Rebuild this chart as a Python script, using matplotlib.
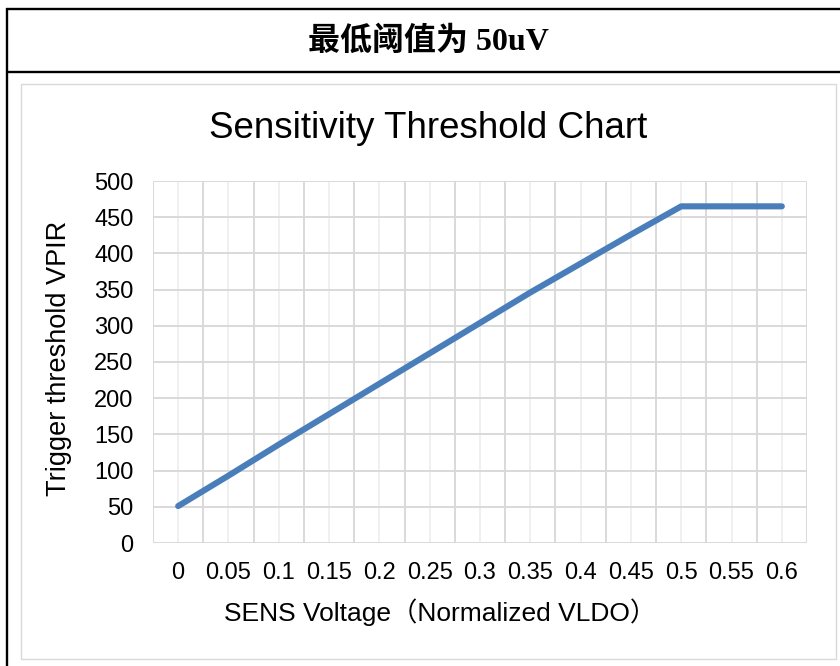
import matplotlib
matplotlib.use('Agg')
import matplotlib.pyplot as plt
from matplotlib.lines import Line2D
from matplotlib.patches import Rectangle
import numpy as np

# data
categories = ['0', '0.05', '0.1', '0.15', '0.2', '0.25', '0.3',
              '0.35', '0.4', '0.45', '0.5', '0.55', '0.6']
threshold = [51, 93, 136, 178, 220, 262, 304, 346, 386, 426, 465, 465, 465]
yticks = [0, 50, 100, 150, 200, 250, 300, 350, 400, 450, 500]

header = '最低阈值为 50uV'
title = 'Sensitivity Threshold Chart'
xlabel = 'SENS Voltage（Normalized VLDO）'
ylabel = 'Trigger threshold VPIR'

W, H = 840, 666
fig = plt.figure(figsize=(W / 100, H / 100), dpi=100)
fig.patch.set_facecolor('white')

def fx(px):
  return px / W

def fy(py):
  return 1 - py / H

# table frame around the chart (black) and inner chart border (gray)
black = dict(color='black', lw=1.7, transform=fig.transFigure,
             solid_capstyle='butt')
fig.add_artist(Line2D([fx(6), 1], [fy(8.5), fy(8.5)], **black))
fig.add_artist(Line2D([fx(6), 1], [fy(72), fy(72)], **black))
fig.add_artist(Line2D([fx(7), fx(7)], [fy(7.5), 0], **black))
fig.add_artist(Rectangle((fx(21), fy(659)), fx(836) - fx(21), fy(84) - fy(659),
                         transform=fig.transFigure, fill=False,
                         edgecolor='#d9d9d9', lw=1.0))

fig.text(fx(428), fy(41), header, ha='center', va='center', fontsize=23,
         fontweight='bold', family=['Liberation Serif', 'Noto Sans CJK SC'])

ax = fig.add_axes([fx(153), fy(543), fx(807) - fx(153), fy(181) - fy(543)])
x = np.arange(len(categories))

# gridlines: darker at category boundaries, lighter at category centres
for b in np.arange(len(categories) + 1) - 0.5:
  ax.axvline(b, color='#d9d9d9', lw=1.4, zorder=1)
for c in x:
  ax.axvline(c, color='#f0f0f0', lw=1.4, zorder=0.5)
for t in yticks:
  ax.axhline(t, color='#d9d9d9', lw=1.4, zorder=1)

ax.plot(x, threshold, color='#4a7ebb', lw=4.4, solid_capstyle='round',
        solid_joinstyle='round', zorder=3)

ax.set_xlim(-0.5, len(categories) - 0.5)
ax.set_ylim(0, 500)
ax.set_xticks(x)
ax.set_xticklabels(categories)
ax.set_yticks(yticks)
for s in ax.spines.values():
  s.set_visible(False)
ax.tick_params(length=0, labelsize=17, colors='black', pad=0)
ax.tick_params(axis='y', pad=14)
ax.tick_params(axis='x', pad=14)
for lab in ax.get_xticklabels() + ax.get_yticklabels():
  lab.set_family('Liberation Sans')

fig.text(fx(428.5), fy(128), title, ha='center', va='center', fontsize=26.5,
         family='Liberation Sans')
fig.text(fx(440), fy(612), xlabel, ha='center', va='center', fontsize=19,
         family=['Liberation Sans', 'Noto Sans CJK SC'])
fig.text(fx(59), fy(358), ylabel, ha='center', va='center', rotation=90,
         fontsize=19.5, family='Liberation Sans')

fig.savefig('out.png', dpi=100, facecolor='white')
